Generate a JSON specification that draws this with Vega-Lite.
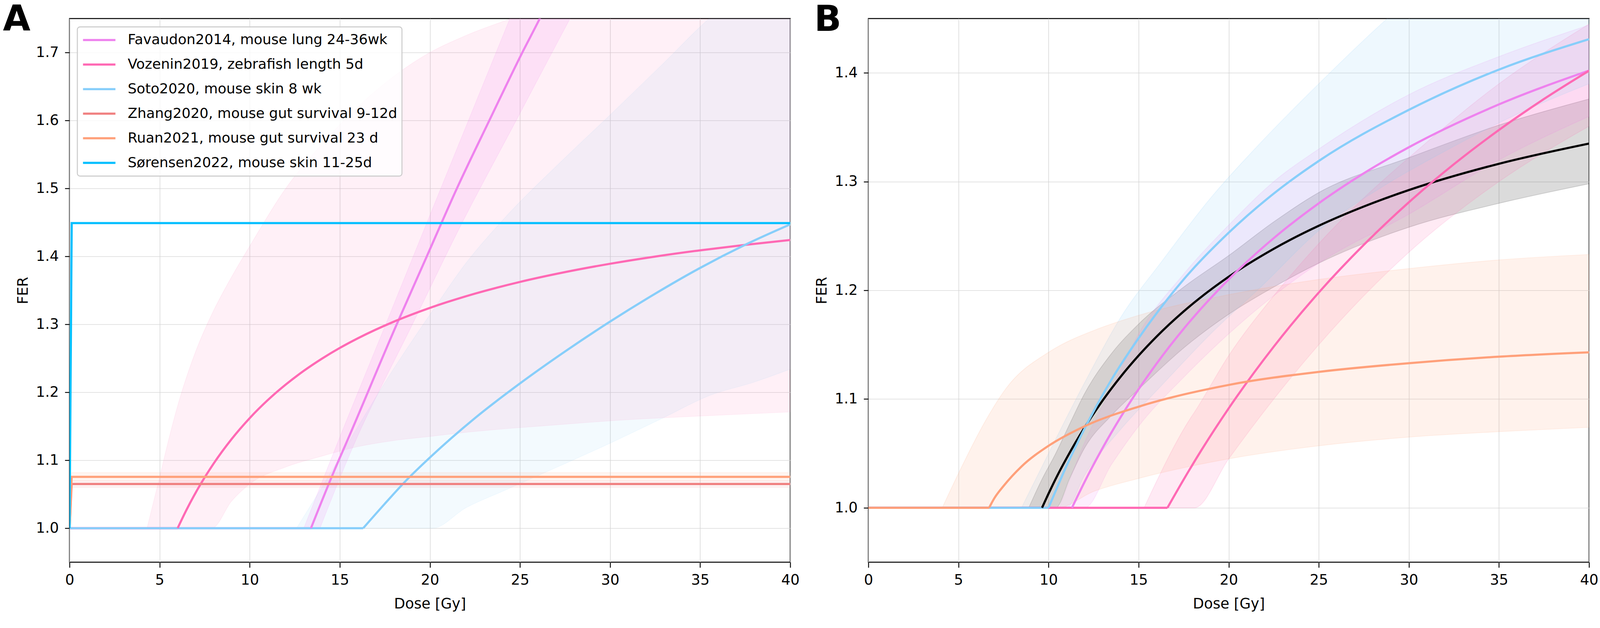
{
  "$schema": "https://vega.github.io/schema/vega-lite/v6.json",
  "background": "white",
  "padding": {"left": 6, "top": 3.4, "right": 0, "bottom": 0},
  "spacing": 200,
  "bounds": "flush",
  "resolve": {"scale": {"color": "independent", "fill": "independent", "stroke": "independent"}, "legend": {"color": "independent"}},
  "datasets": {
    "flatA": [
      {"study": "Favaudon2014, mouse lung 24-36wk", "dose": 0, "fer": 1.0},
      {"study": "Favaudon2014, mouse lung 24-36wk", "dose": 13.4, "fer": 1.0},
      {"study": "Vozenin2019, zebrafish length 5d", "dose": 0, "fer": 1.0},
      {"study": "Vozenin2019, zebrafish length 5d", "dose": 6.0, "fer": 1.0},
      {"study": "Soto2020, mouse skin 8 wk", "dose": 0, "fer": 1.0},
      {"study": "Soto2020, mouse skin 8 wk", "dose": 16.3, "fer": 1.0}
    ],
    "riseA": [
      {"study": "Favaudon2014, mouse lung 24-36wk", "dose": 13.4, "fer": 1.0},
      {"study": "Favaudon2014, mouse lung 24-36wk", "dose": 14.7, "fer": 1.085},
      {"study": "Favaudon2014, mouse lung 24-36wk", "dose": 15.5, "fer": 1.134},
      {"study": "Favaudon2014, mouse lung 24-36wk", "dose": 18.16, "fer": 1.3},
      {"study": "Favaudon2014, mouse lung 24-36wk", "dose": 19.83, "fer": 1.4},
      {"study": "Favaudon2014, mouse lung 24-36wk", "dose": 21.5, "fer": 1.5},
      {"study": "Favaudon2014, mouse lung 24-36wk", "dose": 23.3, "fer": 1.6},
      {"study": "Favaudon2014, mouse lung 24-36wk", "dose": 25.13, "fer": 1.7},
      {"study": "Favaudon2014, mouse lung 24-36wk", "dose": 26.1, "fer": 1.75},
      {"study": "Favaudon2014, mouse lung 24-36wk", "dose": 27.0, "fer": 1.8},
      {"study": "Vozenin2019, zebrafish length 5d", "dose": 6.0, "fer": 1.0},
      {"study": "Vozenin2019, zebrafish length 5d", "dose": 6.5, "fer": 1.0274},
      {"study": "Vozenin2019, zebrafish length 5d", "dose": 7.0, "fer": 1.0522},
      {"study": "Vozenin2019, zebrafish length 5d", "dose": 8.0, "fer": 1.0952},
      {"study": "Vozenin2019, zebrafish length 5d", "dose": 9.0, "fer": 1.1313},
      {"study": "Vozenin2019, zebrafish length 5d", "dose": 10.0, "fer": 1.162},
      {"study": "Vozenin2019, zebrafish length 5d", "dose": 11.0, "fer": 1.1884},
      {"study": "Vozenin2019, zebrafish length 5d", "dose": 12.0, "fer": 1.2113},
      {"study": "Vozenin2019, zebrafish length 5d", "dose": 13.0, "fer": 1.2315},
      {"study": "Vozenin2019, zebrafish length 5d", "dose": 14.0, "fer": 1.2493},
      {"study": "Vozenin2019, zebrafish length 5d", "dose": 15.0, "fer": 1.2652},
      {"study": "Vozenin2019, zebrafish length 5d", "dose": 16.0, "fer": 1.2794},
      {"study": "Vozenin2019, zebrafish length 5d", "dose": 18.0, "fer": 1.3039},
      {"study": "Vozenin2019, zebrafish length 5d", "dose": 20.0, "fer": 1.3242},
      {"study": "Vozenin2019, zebrafish length 5d", "dose": 22.5, "fer": 1.3451},
      {"study": "Vozenin2019, zebrafish length 5d", "dose": 25.0, "fer": 1.3624},
      {"study": "Vozenin2019, zebrafish length 5d", "dose": 27.5, "fer": 1.3768},
      {"study": "Vozenin2019, zebrafish length 5d", "dose": 30.0, "fer": 1.3891},
      {"study": "Vozenin2019, zebrafish length 5d", "dose": 32.5, "fer": 1.3997},
      {"study": "Vozenin2019, zebrafish length 5d", "dose": 35.0, "fer": 1.4089},
      {"study": "Vozenin2019, zebrafish length 5d", "dose": 37.5, "fer": 1.4169},
      {"study": "Vozenin2019, zebrafish length 5d", "dose": 40.0, "fer": 1.4241},
      {"study": "Soto2020, mouse skin 8 wk", "dose": 16.3, "fer": 1.0},
      {"study": "Soto2020, mouse skin 8 wk", "dose": 17.5, "fer": 1.036},
      {"study": "Soto2020, mouse skin 8 wk", "dose": 18.75, "fer": 1.072},
      {"study": "Soto2020, mouse skin 8 wk", "dose": 20.0, "fer": 1.104},
      {"study": "Soto2020, mouse skin 8 wk", "dose": 22.5, "fer": 1.162},
      {"study": "Soto2020, mouse skin 8 wk", "dose": 25.0, "fer": 1.213},
      {"study": "Soto2020, mouse skin 8 wk", "dose": 27.5, "fer": 1.26},
      {"study": "Soto2020, mouse skin 8 wk", "dose": 30.0, "fer": 1.304},
      {"study": "Soto2020, mouse skin 8 wk", "dose": 32.5, "fer": 1.345},
      {"study": "Soto2020, mouse skin 8 wk", "dose": 35.0, "fer": 1.383},
      {"study": "Soto2020, mouse skin 8 wk", "dose": 37.5, "fer": 1.417},
      {"study": "Soto2020, mouse skin 8 wk", "dose": 40.0, "fer": 1.447}
    ],
    "stepA": [
      {"study": "Zhang2020, mouse gut survival 9-12d", "dose": 0, "fer": 1.0},
      {"study": "Zhang2020, mouse gut survival 9-12d", "dose": 0.12, "fer": 1.065},
      {"study": "Zhang2020, mouse gut survival 9-12d", "dose": 40, "fer": 1.065},
      {"study": "Ruan2021, mouse gut survival 23 d", "dose": 0, "fer": 1.0},
      {"study": "Ruan2021, mouse gut survival 23 d", "dose": 0.12, "fer": 1.0755},
      {"study": "Ruan2021, mouse gut survival 23 d", "dose": 40, "fer": 1.0755},
      {"study": "Sørensen2022, mouse skin 11-25d", "dose": 0, "fer": 1.0},
      {"study": "Sørensen2022, mouse skin 11-25d", "dose": 0.12, "fer": 1.449},
      {"study": "Sørensen2022, mouse skin 11-25d", "dose": 40, "fer": 1.449}
    ],
    "bandsA": [
      {"study": "Vozenin2019, zebrafish length 5d", "dose": 4.3, "lo": 1.0, "hi": 1.0},
      {"study": "Vozenin2019, zebrafish length 5d", "dose": 5.0, "lo": 1.0, "hi": 1.075},
      {"study": "Vozenin2019, zebrafish length 5d", "dose": 5.5, "lo": 1.0, "hi": 1.13},
      {"study": "Vozenin2019, zebrafish length 5d", "dose": 6.0, "lo": 1.0, "hi": 1.18},
      {"study": "Vozenin2019, zebrafish length 5d", "dose": 7.0, "lo": 1.0, "hi": 1.26},
      {"study": "Vozenin2019, zebrafish length 5d", "dose": 7.9, "lo": 1.0, "hi": 1.315},
      {"study": "Vozenin2019, zebrafish length 5d", "dose": 9.0, "lo": 1.04, "hi": 1.37},
      {"study": "Vozenin2019, zebrafish length 5d", "dose": 10.0, "lo": 1.065, "hi": 1.415},
      {"study": "Vozenin2019, zebrafish length 5d", "dose": 12.0, "lo": 1.09, "hi": 1.5},
      {"study": "Vozenin2019, zebrafish length 5d", "dose": 14.0, "lo": 1.106, "hi": 1.565},
      {"study": "Vozenin2019, zebrafish length 5d", "dose": 16.0, "lo": 1.12, "hi": 1.62},
      {"study": "Vozenin2019, zebrafish length 5d", "dose": 18.0, "lo": 1.129, "hi": 1.665},
      {"study": "Vozenin2019, zebrafish length 5d", "dose": 20.0, "lo": 1.135, "hi": 1.7},
      {"study": "Vozenin2019, zebrafish length 5d", "dose": 22.0, "lo": 1.141, "hi": 1.725},
      {"study": "Vozenin2019, zebrafish length 5d", "dose": 24.5, "lo": 1.147, "hi": 1.75},
      {"study": "Vozenin2019, zebrafish length 5d", "dose": 27.0, "lo": 1.152, "hi": 1.775},
      {"study": "Vozenin2019, zebrafish length 5d", "dose": 30.0, "lo": 1.158, "hi": 1.8},
      {"study": "Vozenin2019, zebrafish length 5d", "dose": 35.0, "lo": 1.165, "hi": 1.84},
      {"study": "Vozenin2019, zebrafish length 5d", "dose": 40.0, "lo": 1.171, "hi": 1.87},
      {"study": "Soto2020, mouse skin 8 wk", "dose": 12.6, "lo": 1.0, "hi": 1.0},
      {"study": "Soto2020, mouse skin 8 wk", "dose": 14.0, "lo": 1.0, "hi": 1.06},
      {"study": "Soto2020, mouse skin 8 wk", "dose": 15.7, "lo": 1.0, "hi": 1.136},
      {"study": "Soto2020, mouse skin 8 wk", "dose": 18.0, "lo": 1.0, "hi": 1.235},
      {"study": "Soto2020, mouse skin 8 wk", "dose": 20.15, "lo": 1.0, "hi": 1.32},
      {"study": "Soto2020, mouse skin 8 wk", "dose": 22.0, "lo": 1.03, "hi": 1.39},
      {"study": "Soto2020, mouse skin 8 wk", "dose": 24.1, "lo": 1.055, "hi": 1.455},
      {"study": "Soto2020, mouse skin 8 wk", "dose": 27.5, "lo": 1.095, "hi": 1.545},
      {"study": "Soto2020, mouse skin 8 wk", "dose": 30.0, "lo": 1.125, "hi": 1.608},
      {"study": "Soto2020, mouse skin 8 wk", "dose": 33.0, "lo": 1.163, "hi": 1.685},
      {"study": "Soto2020, mouse skin 8 wk", "dose": 35.5, "lo": 1.195, "hi": 1.75},
      {"study": "Soto2020, mouse skin 8 wk", "dose": 38.0, "lo": 1.215, "hi": 1.8},
      {"study": "Soto2020, mouse skin 8 wk", "dose": 40.0, "lo": 1.234, "hi": 1.84},
      {"study": "Zhang2020, mouse gut survival 9-12d", "dose": 0, "lo": 1.0, "hi": 1.0},
      {"study": "Zhang2020, mouse gut survival 9-12d", "dose": 0.12, "lo": 1.06, "hi": 1.07},
      {"study": "Zhang2020, mouse gut survival 9-12d", "dose": 40, "lo": 1.06, "hi": 1.07},
      {"study": "Ruan2021, mouse gut survival 23 d", "dose": 0, "lo": 1.0, "hi": 1.0},
      {"study": "Ruan2021, mouse gut survival 23 d", "dose": 0.12, "lo": 1.07, "hi": 1.082},
      {"study": "Ruan2021, mouse gut survival 23 d", "dose": 40, "lo": 1.07, "hi": 1.082}
    ],
    "favaudonBand": [
      {"fer": 1.0, "dl": 13.0, "dr": 13.9},
      {"fer": 1.136, "dl": 15.03, "dr": 16.0},
      {"fer": 1.3, "dl": 17.55, "dr": 19.03},
      {"fer": 1.45, "dl": 19.84, "dr": 21.8},
      {"fer": 1.6, "dl": 22.14, "dr": 24.79},
      {"fer": 1.75, "dl": 24.44, "dr": 27.78},
      {"fer": 1.8, "dl": 25.2, "dr": 28.8}
    ],
    "flatB": [
      {"study": "All", "dose": 0, "fer": 1.0},
      {"study": "All", "dose": 9.64, "fer": 1.0},
      {"study": "Mammalian", "dose": 0, "fer": 1.0},
      {"study": "Mammalian", "dose": 11.3, "fer": 1.0},
      {"study": "Mammalian skin", "dose": 0, "fer": 1.0},
      {"study": "Mammalian skin", "dose": 16.6, "fer": 1.0},
      {"study": "Mammalian without skin", "dose": 0, "fer": 1.0},
      {"study": "Mammalian without skin", "dose": 10.0, "fer": 1.0},
      {"study": "Mouse gut", "dose": 0, "fer": 1.0},
      {"study": "Mouse gut", "dose": 6.7, "fer": 1.0}
    ],
    "riseB": [
      {"study": "All", "dose": 9.64, "fer": 1.0},
      {"study": "All", "dose": 10.0, "fer": 1.013},
      {"study": "All", "dose": 10.5, "fer": 1.03},
      {"study": "All", "dose": 11.0, "fer": 1.0455},
      {"study": "All", "dose": 12.0, "fer": 1.0738},
      {"study": "All", "dose": 13.0, "fer": 1.0986},
      {"study": "All", "dose": 14.0, "fer": 1.1205},
      {"study": "All", "dose": 15.0, "fer": 1.14},
      {"study": "All", "dose": 16.0, "fer": 1.1575},
      {"study": "All", "dose": 17.5, "fer": 1.1806},
      {"study": "All", "dose": 20.0, "fer": 1.2125},
      {"study": "All", "dose": 22.5, "fer": 1.2382},
      {"study": "All", "dose": 25.0, "fer": 1.2594},
      {"study": "All", "dose": 27.5, "fer": 1.2771},
      {"study": "All", "dose": 30.0, "fer": 1.2922},
      {"study": "All", "dose": 35.0, "fer": 1.3164},
      {"study": "All", "dose": 40.0, "fer": 1.335},
      {"study": "Mammalian", "dose": 11.3, "fer": 1.0},
      {"study": "Mammalian", "dose": 12.0, "fer": 1.0238},
      {"study": "Mammalian", "dose": 13.0, "fer": 1.055},
      {"study": "Mammalian", "dose": 14.0, "fer": 1.0833},
      {"study": "Mammalian", "dose": 15.0, "fer": 1.1091},
      {"study": "Mammalian", "dose": 16.0, "fer": 1.1327},
      {"study": "Mammalian", "dose": 17.5, "fer": 1.1646},
      {"study": "Mammalian", "dose": 20.0, "fer": 1.2101},
      {"study": "Mammalian", "dose": 22.5, "fer": 1.248},
      {"study": "Mammalian", "dose": 25.0, "fer": 1.2801},
      {"study": "Mammalian", "dose": 27.5, "fer": 1.3077},
      {"study": "Mammalian", "dose": 30.0, "fer": 1.3316},
      {"study": "Mammalian", "dose": 35.0, "fer": 1.371},
      {"study": "Mammalian", "dose": 40.0, "fer": 1.4021},
      {"study": "Mammalian skin", "dose": 16.6, "fer": 1.0},
      {"study": "Mammalian skin", "dose": 17.5, "fer": 1.026},
      {"study": "Mammalian skin", "dose": 18.5, "fer": 1.0534},
      {"study": "Mammalian skin", "dose": 20.0, "fer": 1.0915},
      {"study": "Mammalian skin", "dose": 22.5, "fer": 1.1482},
      {"study": "Mammalian skin", "dose": 25.0, "fer": 1.198},
      {"study": "Mammalian skin", "dose": 27.5, "fer": 1.2419},
      {"study": "Mammalian skin", "dose": 30.0, "fer": 1.281},
      {"study": "Mammalian skin", "dose": 32.5, "fer": 1.316},
      {"study": "Mammalian skin", "dose": 35.0, "fer": 1.3475},
      {"study": "Mammalian skin", "dose": 37.5, "fer": 1.376},
      {"study": "Mammalian skin", "dose": 40.0, "fer": 1.402},
      {"study": "Mammalian without skin", "dose": 10.0, "fer": 1.0},
      {"study": "Mammalian without skin", "dose": 11.0, "fer": 1.0385},
      {"study": "Mammalian without skin", "dose": 12.0, "fer": 1.0728},
      {"study": "Mammalian without skin", "dose": 13.5, "fer": 1.118},
      {"study": "Mammalian without skin", "dose": 15.0, "fer": 1.156},
      {"study": "Mammalian without skin", "dose": 17.5, "fer": 1.21},
      {"study": "Mammalian without skin", "dose": 20.0, "fer": 1.253},
      {"study": "Mammalian without skin", "dose": 22.5, "fer": 1.289},
      {"study": "Mammalian without skin", "dose": 25.0, "fer": 1.319},
      {"study": "Mammalian without skin", "dose": 30.0, "fer": 1.366},
      {"study": "Mammalian without skin", "dose": 35.0, "fer": 1.403},
      {"study": "Mammalian without skin", "dose": 40.0, "fer": 1.431},
      {"study": "Mouse gut", "dose": 6.7, "fer": 1.0},
      {"study": "Mouse gut", "dose": 7.0, "fer": 1.009},
      {"study": "Mouse gut", "dose": 7.5, "fer": 1.02},
      {"study": "Mouse gut", "dose": 8.5, "fer": 1.038},
      {"study": "Mouse gut", "dose": 10.0, "fer": 1.057},
      {"study": "Mouse gut", "dose": 12.0, "fer": 1.075},
      {"study": "Mouse gut", "dose": 15.0, "fer": 1.093},
      {"study": "Mouse gut", "dose": 20.0, "fer": 1.113},
      {"study": "Mouse gut", "dose": 25.0, "fer": 1.125},
      {"study": "Mouse gut", "dose": 30.0, "fer": 1.133},
      {"study": "Mouse gut", "dose": 35.0, "fer": 1.139},
      {"study": "Mouse gut", "dose": 40.0, "fer": 1.143}
    ],
    "bandsB": [
      {"study": "All", "dose": 8.9, "lo": 1.0, "hi": 1.0},
      {"study": "All", "dose": 9.6, "lo": 1.0, "hi": 1.025},
      {"study": "All", "dose": 10.4, "lo": 1.0, "hi": 1.05},
      {"study": "All", "dose": 11.2, "lo": 1.028, "hi": 1.078},
      {"study": "All", "dose": 12.0, "lo": 1.055, "hi": 1.105},
      {"study": "All", "dose": 13.5, "lo": 1.085, "hi": 1.142},
      {"study": "All", "dose": 15.0, "lo": 1.109, "hi": 1.169},
      {"study": "All", "dose": 17.5, "lo": 1.147, "hi": 1.203},
      {"study": "All", "dose": 20.0, "lo": 1.178, "hi": 1.232},
      {"study": "All", "dose": 22.5, "lo": 1.203, "hi": 1.263},
      {"study": "All", "dose": 25.0, "lo": 1.225, "hi": 1.29},
      {"study": "All", "dose": 30.0, "lo": 1.258, "hi": 1.322},
      {"study": "All", "dose": 35.0, "lo": 1.28, "hi": 1.352},
      {"study": "All", "dose": 40.0, "lo": 1.298, "hi": 1.376},
      {"study": "Mammalian", "dose": 10.6, "lo": 1.0, "hi": 1.0},
      {"study": "Mammalian", "dose": 12.0, "lo": 1.0, "hi": 1.06},
      {"study": "Mammalian", "dose": 13.5, "lo": 1.04, "hi": 1.11},
      {"study": "Mammalian", "dose": 15.0, "lo": 1.075, "hi": 1.16},
      {"study": "Mammalian", "dose": 17.5, "lo": 1.12, "hi": 1.215},
      {"study": "Mammalian", "dose": 20.0, "lo": 1.16, "hi": 1.26},
      {"study": "Mammalian", "dose": 22.5, "lo": 1.195, "hi": 1.3},
      {"study": "Mammalian", "dose": 25.0, "lo": 1.225, "hi": 1.33},
      {"study": "Mammalian", "dose": 30.0, "lo": 1.27, "hi": 1.38},
      {"study": "Mammalian", "dose": 35.0, "lo": 1.32, "hi": 1.415},
      {"study": "Mammalian", "dose": 40.0, "lo": 1.36, "hi": 1.444},
      {"study": "Mammalian skin", "dose": 15.3, "lo": 1.0, "hi": 1.0},
      {"study": "Mammalian skin", "dose": 17.9, "lo": 1.0, "hi": 1.083},
      {"study": "Mammalian skin", "dose": 18.1, "lo": 1.0, "hi": 1.088},
      {"study": "Mammalian skin", "dose": 20.0, "lo": 1.045, "hi": 1.14},
      {"study": "Mammalian skin", "dose": 22.5, "lo": 1.1, "hi": 1.195},
      {"study": "Mammalian skin", "dose": 25.0, "lo": 1.15, "hi": 1.243},
      {"study": "Mammalian skin", "dose": 27.5, "lo": 1.195, "hi": 1.285},
      {"study": "Mammalian skin", "dose": 30.0, "lo": 1.235, "hi": 1.322},
      {"study": "Mammalian skin", "dose": 35.0, "lo": 1.3, "hi": 1.39},
      {"study": "Mammalian skin", "dose": 40.0, "lo": 1.351, "hi": 1.445},
      {"study": "Mammalian without skin", "dose": 8.5, "lo": 1.0, "hi": 1.0},
      {"study": "Mammalian without skin", "dose": 10.0, "lo": 1.0, "hi": 1.05},
      {"study": "Mammalian without skin", "dose": 11.0, "lo": 1.0, "hi": 1.083},
      {"study": "Mammalian without skin", "dose": 12.0, "lo": 1.03, "hi": 1.115},
      {"study": "Mammalian without skin", "dose": 14.0, "lo": 1.072, "hi": 1.175},
      {"study": "Mammalian without skin", "dose": 16.3, "lo": 1.113, "hi": 1.227},
      {"study": "Mammalian without skin", "dose": 19.0, "lo": 1.16, "hi": 1.285},
      {"study": "Mammalian without skin", "dose": 21.9, "lo": 1.205, "hi": 1.338},
      {"study": "Mammalian without skin", "dose": 25.0, "lo": 1.255, "hi": 1.39},
      {"study": "Mammalian without skin", "dose": 28.8, "lo": 1.298, "hi": 1.45},
      {"study": "Mammalian without skin", "dose": 32.0, "lo": 1.328, "hi": 1.495},
      {"study": "Mammalian without skin", "dose": 36.0, "lo": 1.362, "hi": 1.545},
      {"study": "Mammalian without skin", "dose": 40.0, "lo": 1.39, "hi": 1.59},
      {"study": "Mouse gut", "dose": 4.1, "lo": 1.0, "hi": 1.0},
      {"study": "Mouse gut", "dose": 5.1, "lo": 1.0, "hi": 1.035},
      {"study": "Mouse gut", "dose": 6.5, "lo": 1.0, "hi": 1.08},
      {"study": "Mouse gut", "dose": 7.65, "lo": 1.0, "hi": 1.11},
      {"study": "Mouse gut", "dose": 10.0, "lo": 1.0, "hi": 1.143},
      {"study": "Mouse gut", "dose": 10.5, "lo": 1.0, "hi": 1.148},
      {"study": "Mouse gut", "dose": 12.5, "lo": 1.015, "hi": 1.163},
      {"study": "Mouse gut", "dose": 15.0, "lo": 1.027, "hi": 1.177},
      {"study": "Mouse gut", "dose": 20.0, "lo": 1.045, "hi": 1.196},
      {"study": "Mouse gut", "dose": 25.0, "lo": 1.057, "hi": 1.21},
      {"study": "Mouse gut", "dose": 30.0, "lo": 1.065, "hi": 1.22},
      {"study": "Mouse gut", "dose": 35.0, "lo": 1.07, "hi": 1.228},
      {"study": "Mouse gut", "dose": 40.0, "lo": 1.074, "hi": 1.233}
    ]
  },
  "hconcat": [
    {
      "width": 1845,
      "height": 1392,
      "layer": [
        {
          "data": {"name": "bandsA"},
          "mark": {"type": "area", "interpolate": "monotone", "clip": true, "fillOpacity": 0.1, "strokeOpacity": 0.1, "strokeWidth": 1.4},
          "encoding": {
            "x": {"field": "dose", "type": "quantitative", "title": "Dose [Gy]", "scale": {"domain": [0, 40], "nice": false, "zero": false}, "axis": {"values": [0, 5, 10, 15, 20, 25, 30, 35, 40], "grid": true}},
            "y": {"field": "lo", "type": "quantitative", "title": "FER", "scale": {"domain": [0.95, 1.75], "nice": false, "zero": false}, "axis": {"values": [1.0, 1.1, 1.2, 1.3, 1.4, 1.5, 1.6, 1.7], "format": ".1f", "grid": true}},
            "y2": {"field": "hi"},
            "fill": {"field": "study", "type": "nominal", "legend": null, "scale": {"domain": ["Vozenin2019, zebrafish length 5d", "Soto2020, mouse skin 8 wk", "Zhang2020, mouse gut survival 9-12d", "Ruan2021, mouse gut survival 23 d"], "range": ["#ff69b4", "#87cefa", "#f08080", "#ffa07a"]}},
            "stroke": {"field": "study", "type": "nominal", "legend": null, "scale": {"domain": ["Vozenin2019, zebrafish length 5d", "Soto2020, mouse skin 8 wk", "Zhang2020, mouse gut survival 9-12d", "Ruan2021, mouse gut survival 23 d"], "range": ["#ff69b4", "#87cefa", "#f08080", "#ffa07a"]}}
          }
        },
        {
          "data": {"name": "favaudonBand"},
          "mark": {"type": "area", "orient": "horizontal", "interpolate": "monotone", "clip": true, "color": "#ee82ee", "fillOpacity": 0.14, "strokeOpacity": 0.14, "strokeWidth": 1.4, "stroke": "#ee82ee"},
          "encoding": {
            "y": {"field": "fer", "type": "quantitative", "title": "FER"},
            "x": {"field": "dl", "type": "quantitative", "title": "Dose [Gy]"},
            "x2": {"field": "dr"}
          }
        },
        {
          "data": {"name": "flatA"},
          "mark": {"type": "line", "clip": true, "strokeWidth": 5.5},
          "encoding": {
            "x": {"field": "dose", "type": "quantitative", "title": "Dose [Gy]"},
            "y": {"field": "fer", "type": "quantitative", "title": "FER"},
            "color": {"field": "study", "type": "nominal", "scale": {"domain": ["Favaudon2014, mouse lung 24-36wk", "Vozenin2019, zebrafish length 5d", "Soto2020, mouse skin 8 wk", "Zhang2020, mouse gut survival 9-12d", "Ruan2021, mouse gut survival 23 d", "Sørensen2022, mouse skin 11-25d"], "range": ["#ee82ee", "#ff69b4", "#87cefa", "#f08080", "#ffa07a", "#00bfff"]}, "legend": {"title": null}}
          }
        },
        {
          "data": {"name": "riseA"},
          "mark": {"type": "line", "clip": true, "strokeWidth": 5.5, "interpolate": "monotone"},
          "encoding": {
            "x": {"field": "dose", "type": "quantitative", "title": "Dose [Gy]"},
            "y": {"field": "fer", "type": "quantitative", "title": "FER"},
            "color": {"field": "study", "type": "nominal"}
          }
        },
        {
          "data": {"name": "stepA"},
          "mark": {"type": "line", "clip": true, "strokeWidth": 5.5},
          "encoding": {
            "x": {"field": "dose", "type": "quantitative", "title": "Dose [Gy]"},
            "y": {"field": "fer", "type": "quantitative", "title": "FER"},
            "color": {"field": "study", "type": "nominal"}
          }
        },
        {
          "mark": {"type": "rule", "color": "black", "strokeWidth": 1.9, "strokeDash": [2, 2.8]},
          "encoding": {"y": {"datum": 1}}
        },
        {
          "data": {"values": [{"panel": "A"}]},
          "mark": {"type": "text", "font": "DejaVu Sans", "fontSize": 91, "fontWeight": "bold", "align": "left", "baseline": "alphabetic", "color": "black"},
          "encoding": {"text": {"field": "panel"}, "x": {"datum": -3.696}, "y": {"datum": 1.7326}}
        }
      ]
    },
    {
      "width": 1845,
      "height": 1392,
      "layer": [
        {
          "data": {"name": "bandsB"},
          "mark": {"type": "area", "interpolate": "monotone", "clip": true, "fillOpacity": 0.14, "strokeOpacity": 0.14, "strokeWidth": 1.9},
          "encoding": {
            "x": {"field": "dose", "type": "quantitative", "title": "Dose [Gy]", "scale": {"domain": [0, 40], "nice": false, "zero": false}, "axis": {"values": [0, 5, 10, 15, 20, 25, 30, 35, 40], "grid": true}},
            "y": {"field": "lo", "type": "quantitative", "title": "FER", "scale": {"domain": [0.95, 1.45], "nice": false, "zero": false}, "axis": {"values": [1.0, 1.1, 1.2, 1.3, 1.4], "format": ".1f", "grid": true}},
            "y2": {"field": "hi"},
            "fill": {"field": "study", "type": "nominal", "legend": null, "scale": {"domain": ["All", "Mammalian", "Mammalian skin", "Mammalian without skin", "Mouse gut"], "range": ["#000000", "#ee82ee", "#ff69b4", "#87cefa", "#ffa07a"]}},
            "stroke": {"field": "study", "type": "nominal", "legend": null, "scale": {"domain": ["All", "Mammalian", "Mammalian skin", "Mammalian without skin", "Mouse gut"], "range": ["#000000", "#ee82ee", "#ff69b4", "#87cefa", "#ffa07a"]}}
          }
        },
        {
          "data": {"name": "flatB"},
          "mark": {"type": "line", "clip": true, "strokeWidth": 5.5},
          "encoding": {
            "x": {"field": "dose", "type": "quantitative", "title": "Dose [Gy]"},
            "y": {"field": "fer", "type": "quantitative", "title": "FER"},
            "color": {"field": "study", "type": "nominal", "scale": {"domain": ["All", "Mammalian", "Mammalian skin", "Mammalian without skin", "Mouse gut"], "range": ["#000000", "#ee82ee", "#ff69b4", "#87cefa", "#ffa07a"]}, "legend": {"title": null}}
          }
        },
        {
          "data": {"name": "riseB"},
          "mark": {"type": "line", "clip": true, "strokeWidth": 5.5, "interpolate": "monotone"},
          "encoding": {
            "x": {"field": "dose", "type": "quantitative", "title": "Dose [Gy]"},
            "y": {"field": "fer", "type": "quantitative", "title": "FER"},
            "color": {"field": "study", "type": "nominal"}
          }
        },
        {
          "mark": {"type": "rule", "color": "black", "strokeWidth": 1.9, "strokeDash": [2, 2.8]},
          "encoding": {"y": {"datum": 1}}
        },
        {
          "data": {"values": [{"panel": "B"}]},
          "mark": {"type": "text", "font": "DejaVu Sans", "fontSize": 91, "fontWeight": "bold", "align": "left", "baseline": "alphabetic", "color": "black"},
          "encoding": {"text": {"field": "panel"}, "x": {"datum": -3.005}, "y": {"datum": 1.4388}}
        }
      ]
    }
  ],
  "config": {
    "font": "DejaVu Sans",
    "view": {"stroke": "black", "strokeWidth": 2.5},
    "axis": {
      "domain": false,
      "labelFlush": false,
      "tickColor": "black",
      "tickWidth": 2.3,
      "labelFont": "DejaVu Sans",
      "labelFontSize": 37,
      "labelColor": "black",
      "titleFont": "DejaVu Sans",
      "titleFontSize": 37,
      "titleFontWeight": "normal",
      "titleColor": "black",
      "gridColor": "#d3d3d3",
      "gridWidth": 1.4
    },
    "axisX": {"tickSize": 13.7, "labelPadding": 14.3, "titlePadding": 25},
    "axisY": {"tickSize": 12, "labelPadding": 15.6, "titlePadding": 12.8},
    "legend": {
      "orient": "none",
      "legendX": 20,
      "legendY": 21.5,
      "symbolType": "stroke",
      "symbolSize": 6889,
      "symbolStrokeWidth": 5.5,
      "symbolOpacity": 1,
      "labelFont": "DejaVu Sans",
      "labelFontSize": 36,
      "labelColor": "black",
      "labelLimit": 3000,
      "labelOffset": 28.5,
      "padding": 11.5,
      "rowPadding": 18.9,
      "clipHeight": 44,
      "fillColor": "rgba(255,255,255,0.8)",
      "strokeColor": "#cccccc",
      "strokeWidth": 2.6,
      "cornerRadius": 7
    }
  }
}
